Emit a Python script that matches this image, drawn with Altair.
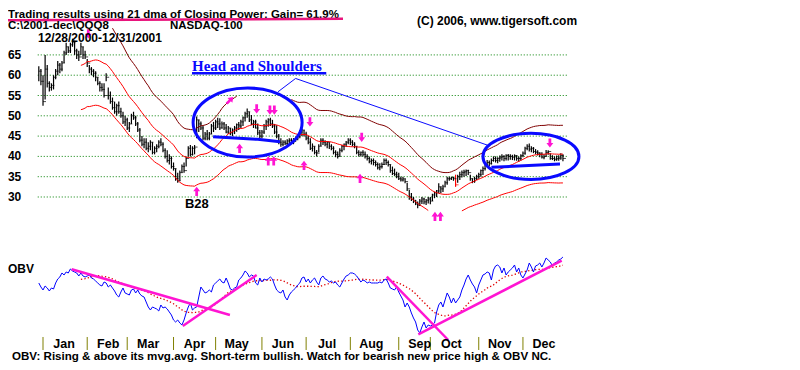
import altair as alt
import pandas as pd

# ---------------- data ----------------
# trading-day index 0 = 12/28/2000 ... 249 = 12/31/2001 ; QQQ (NASDAQ-100 tracking stock)
highs = [
    62.2, 61.5, 60.0, 65.0, 62.5, 58.5, 58.0, 60.0, 61.5, 63.5,
    63.0, 63.5, 66.0, 68.0, 67.0, 68.0, 69.0, 68.5, 66.5, 66.0,
    68.0, 67.0, 66.0, 64.0, 62.5, 62.0, 61.5, 61.0, 59.5, 58.5,
    58.0, 58.0, 60.5, 57.0, 56.0, 54.5, 53.5, 53.0, 53.5, 52.0,
    51.0, 50.0, 49.5, 48.5, 50.5, 51.0, 50.0, 48.5, 47.0, 45.0,
    44.5, 44.5, 43.5, 44.0, 43.5, 42.5, 43.0, 44.0, 44.5, 43.5,
    42.0, 41.5, 40.5, 40.0, 38.5, 37.0, 36.0, 36.5, 38.0, 38.5,
    40.0, 42.5, 42.8, 42.5, 42.8, 49.8, 49.0, 48.6, 47.5, 46.0,
    46.5, 46.0, 48.0, 48.5, 49.0, 49.5, 49.4, 48.6, 48.5, 48.0,
    47.5, 47.0, 46.9, 47.5, 48.1, 48.5, 49.0, 49.8, 51.0, 51.8,
    51.0, 50.2, 49.0, 49.0, 48.1, 46.5, 46.5, 48.0, 49.0, 49.4,
    49.5, 49.0, 48.0, 47.7, 45.5, 44.5, 44.0, 44.0, 44.2, 44.5,
    44.5, 44.5, 44.9, 45.5, 46.5, 46.9, 46.5, 46.1, 45.0, 44.5,
    43.2, 42.5, 41.6, 43.0, 44.5, 44.5, 44.0, 43.8, 43.5, 43.0,
    42.5, 41.5, 41.2, 42.0, 42.8, 43.2, 43.8, 44.5, 44.5, 44.0,
    43.5, 42.5, 41.5, 41.2, 41.5, 41.2, 40.5, 40.0, 39.5, 39.5,
    39.0, 38.5, 38.3, 38.5, 39.5, 39.5, 39.0, 38.0, 37.5, 37.0,
    36.2, 36.0, 35.0, 35.0, 34.5, 33.5, 31.7, 31.0, 30.0, 29.3,
    28.9, 29.5, 30.0, 29.8, 29.5, 30.0, 30.0, 30.8, 31.3, 31.7,
    33.4, 32.6, 33.0, 34.0, 35.0, 35.0, 35.0, 35.0, 35.5, 35.5,
    36.2, 36.5, 36.7, 36.8, 36.7, 35.5, 34.6, 35.0, 35.5, 36.0,
    36.8, 37.5, 38.5, 39.1, 39.0, 39.5, 40.0, 40.0, 39.8, 40.2,
    40.5, 40.3, 40.5, 40.6, 40.5, 40.4, 40.5, 40.3, 40.0, 40.5,
    41.2, 42.4, 43.0, 43.2, 42.5, 42.3, 41.8, 41.5, 41.0, 41.0,
    40.5, 41.6, 41.5, 40.8, 40.3, 40.0, 40.2, 40.3, 40.8, 40.5,
]
lows = [
    58.5, 57.5, 52.5, 54.0, 57.0, 56.0, 56.2, 56.5, 59.0, 60.0,
    60.5, 61.0, 63.0, 65.0, 65.5, 65.5, 67.0, 65.0, 64.0, 63.5,
    65.0, 64.0, 64.0, 62.0, 60.5, 60.0, 59.5, 58.5, 57.5, 56.0,
    56.0, 54.5, 58.5, 54.0, 53.0, 51.5, 50.5, 50.0, 50.5, 49.5,
    48.0, 47.5, 46.5, 46.0, 48.0, 49.0, 47.5, 46.0, 43.5, 42.5,
    42.0, 41.5, 41.0, 41.5, 40.5, 40.5, 41.0, 42.0, 42.5, 41.0,
    39.5, 38.5, 38.0, 37.0, 36.5, 34.0, 33.5, 34.0, 36.0, 36.0,
    37.5, 40.0, 40.0, 40.2, 40.5, 44.5, 46.0, 46.5, 44.0, 44.0,
    44.0, 44.0, 45.5, 46.0, 46.5, 47.0, 46.5, 46.9, 46.5, 45.7,
    45.5, 45.3, 45.0, 45.5, 46.1, 46.5, 47.0, 47.5, 48.6, 49.5,
    48.5, 47.7, 47.0, 46.9, 45.3, 44.5, 44.5, 45.5, 46.5, 47.3,
    47.5, 47.0, 45.5, 44.5, 43.0, 42.4, 42.5, 42.8, 42.8, 43.0,
    43.2, 43.0, 43.6, 44.0, 44.5, 45.0, 44.9, 44.0, 43.0, 41.6,
    41.2, 40.5, 40.0, 41.0, 42.5, 42.8, 42.5, 42.0, 41.8, 41.5,
    40.5, 39.8, 39.5, 40.0, 41.0, 41.5, 42.3, 43.0, 42.8, 42.5,
    42.0, 40.5, 40.0, 40.0, 40.0, 39.5, 39.0, 38.3, 38.0, 37.8,
    37.5, 36.8, 36.6, 37.0, 37.9, 37.9, 37.5, 36.0, 35.4, 35.2,
    34.6, 34.2, 33.8, 33.8, 33.4, 31.5, 29.3, 29.0, 28.5, 28.0,
    27.2, 27.8, 28.3, 28.2, 28.0, 28.4, 28.2, 29.0, 29.7, 30.0,
    30.9, 31.0, 31.2, 32.5, 33.0, 34.0, 34.2, 34.0, 32.5, 33.5,
    34.2, 34.8, 35.0, 35.2, 35.4, 34.0, 33.4, 33.5, 34.2, 34.5,
    35.0, 35.4, 36.5, 37.9, 37.6, 38.0, 38.7, 38.5, 38.3, 38.7,
    39.0, 38.8, 39.0, 39.0, 39.2, 39.1, 39.0, 38.9, 38.7, 39.0,
    39.8, 40.4, 41.5, 41.2, 41.0, 40.8, 40.5, 40.2, 39.8, 39.5,
    39.3, 40.0, 40.4, 39.2, 39.1, 38.8, 38.9, 38.9, 39.2, 38.8,
]
closes = [
    61.0, 58.5, 53.5, 61.5, 58.0, 57.0, 57.5, 59.5, 61.0, 62.5,
    61.5, 63.0, 65.5, 67.0, 66.0, 67.5, 68.0, 66.0, 65.0, 64.5,
    67.0, 65.0, 64.5, 63.0, 61.5, 61.0, 60.5, 59.5, 58.0, 57.0,
    56.5, 55.0, 59.5, 55.0, 53.5, 52.0, 51.0, 52.5, 51.0, 50.0,
    48.5, 49.0, 47.0, 48.0, 50.0, 49.5, 48.0, 46.5, 44.0, 43.0,
    43.5, 42.0, 42.5, 43.5, 41.0, 42.0, 42.5, 43.5, 43.0, 41.5,
    40.0, 39.0, 39.5, 37.5, 37.0, 34.5, 34.0, 36.0, 37.5, 36.5,
    39.5, 42.0, 40.5, 42.0, 42.3, 49.0, 48.0, 47.0, 44.5, 45.5,
    44.5, 45.5, 47.5, 47.0, 48.5, 48.0, 47.0, 48.0, 47.0, 46.0,
    47.0, 45.8, 46.5, 47.0, 47.8, 47.5, 48.5, 49.5, 50.5, 51.0,
    49.0, 48.0, 48.5, 47.0, 45.8, 45.0, 46.0, 47.5, 48.5, 49.0,
    48.0, 47.5, 46.0, 45.0, 43.5, 43.0, 43.5, 43.2, 43.8, 44.0,
    43.5, 44.2, 44.5, 45.0, 46.0, 46.5, 45.5, 44.5, 43.5, 42.0,
    42.5, 41.0, 40.8, 42.5, 44.0, 43.5, 43.0, 43.5, 42.5, 42.0,
    41.0, 40.5, 40.0, 41.5, 42.5, 43.0, 43.5, 44.0, 43.5, 43.0,
    42.5, 41.0, 40.5, 41.0, 40.5, 40.0, 39.5, 38.8, 39.0, 38.5,
    38.0, 37.2, 37.5, 38.0, 39.0, 38.5, 38.0, 36.5, 35.8, 35.5,
    35.0, 34.5, 34.2, 34.5, 33.8, 32.0, 30.0, 29.5, 29.0, 28.3,
    28.0, 29.0, 29.5, 28.8, 29.2, 29.5, 29.0, 30.5, 31.0, 31.5,
    32.5, 32.0, 32.5, 33.5, 34.5, 34.5, 34.8, 34.5, 33.0, 35.0,
    35.5, 36.0, 36.2, 36.5, 36.0, 34.5, 33.8, 34.5, 35.0, 35.5,
    36.5, 37.0, 38.0, 38.5, 38.2, 39.0, 39.5, 39.0, 39.5, 39.8,
    40.0, 39.5, 40.2, 40.0, 40.0, 39.8, 40.2, 39.5, 39.5, 40.2,
    40.8, 42.0, 42.5, 41.8, 42.0, 41.2, 41.0, 40.8, 40.5, 39.8,
    40.0, 41.0, 41.2, 39.5, 39.5, 39.2, 39.5, 39.6, 40.2, 39.5,
]
# On-Balance-Volume, relative units
obv_values = [
    57, 53, 50, 54, 52, 49, 52, 51, 57, 61,
    63, 67, 65, 68, 67, 71, 69, 68, 67, 64,
    67, 64, 63, 64, 65, 62, 61, 59, 57, 55,
    54, 58, 57, 53, 55, 52, 49, 45, 43, 48,
    52, 47, 46, 45, 50, 51, 47, 50, 46, 44,
    43, 38, 33, 30, 33, 32, 31, 29, 35, 32,
    33, 31, 28, 25, 20, 18, 20, 17, 15, 20,
    27, 33, 37, 30, 32, 33, 43, 53, 50, 47,
    48, 50, 48, 55, 57, 59, 61, 58, 57, 62,
    57, 51, 50, 52, 53, 60, 62, 65, 69, 67,
    63, 65, 64, 57, 55, 62, 58, 61, 60, 61,
    63, 61, 55, 50, 48, 47, 50, 43, 40, 45,
    48, 50, 52, 55, 57, 62, 63, 58, 61, 57,
    60, 62, 58, 55, 62, 64, 61, 60, 58, 59,
    57, 58, 55, 53, 57, 61, 64, 65, 67, 67,
    66, 64, 61, 58, 60, 59, 57, 58, 57, 57,
    57, 57, 58, 57, 60, 61, 57, 52, 51, 50,
    53, 48, 44, 40, 33, 37, 33, 27, 22, 18,
    10, 7, 13, 18, 12, 15, 14, 15, 17, 28,
    35, 38, 33, 40, 47, 43, 37, 42, 37, 40,
    43, 50, 55, 61, 65, 60, 56, 53, 47, 55,
    60, 65, 66, 68, 67, 60, 70, 74, 75, 73,
    67, 72, 65, 68, 70, 72, 75, 68, 72, 65,
    62, 66, 70, 77, 73, 68, 74, 75, 77, 73,
    77, 82, 80, 78, 74, 77, 78, 80, 81, 83,
]
red_bar_days = [198]

month_names = ["Jan", "Feb", "Mar", "Apr", "May", "Jun", "Jul", "Aug", "Sep", "Oct", "Nov", "Dec"]
month_start_days = [2, 23, 42, 64, 84, 106, 127, 148, 171, 186, 209, 230]
price_ticks = [30, 35, 40, 45, 50, 55, 60, 65]

ma_window = 21          # 21 dma
band_pct = 0.175        # band width around the 21 dma
upper_band_gap = [95, 119]   # stretch where the upper band is not drawn

# signal arrows (day, price)
down_arrow_days = [23.5, 103.5, 109.8, 111.9, 128.8, 153.4, 242.8]
down_arrow_prices = [70.2, 51.7, 51.4, 51.4, 48.5, 44.7, 43.3]
up_arrow_days = [75.0, 95.4, 109.0, 111.6, 126.0, 152.6, 188.2, 190.8]
up_arrow_prices = [31.4, 42.0, 38.9, 38.9, 37.8, 34.6, 25.2, 25.2]
diag_arrow_days = [90.8]
diag_arrow_prices = [53.8]

# hand-drawn annotations (day, price)
ellipse_days = [99.2, 233.8]
ellipse_prices = [48.35, 40.0]
neck1_days = [82.8, 104.0, 114.6]
neck1_prices = [44.85, 44.2, 43.6]
neck2_days = [215.0, 247.6]
neck2_prices = [37.3, 38.1]
pointer_days = [113.6, 122.0, 213.0]
pointer_prices = [55.9, 59.2, 42.8]
# OBV trend lines (day, obv)
obv_trend_seg = [0, 0, 1, 1, 2, 2, 3, 3]
obv_trend_days = [15.6, 90.8, 68.4, 103.5, 165.3, 194.5, 180.3, 248.4]
obv_trend_vals = [70.7, 25.0, 14.0, 65.0, 63.3, 0.0, 5.7, 79.3]

title_text = "Trading results using  21 dma of Closing Power: Gain= 61.9%"
path_text = "C:\\2001-dec\\QQQ8"
index_text = "NASDAQ-100"
range_text = "12/28/2000-12/31/2001"
copyright_text = "(C) 2006, www.tigersoft.com"
hs_text = "Head and Shoulders"
b_text = "B28"
obv_text = "OBV"
footer_text = "OBV: Rising & above its mvg.avg. Short-term bullish. Watch for bearish new price high & OBV NC."

# ---------------- chart ----------------
FONT = "Liberation Sans"
MAGENTA = "#ff14d2"
BLUE = "#0a0aff"
PMIN, PMAX = 26.5, 72
PLOT_W, PLOT_H = 529.4, 329

n = len(closes)
df = pd.DataFrame({"d": list(range(n)), "high": highs, "low": lows,
                   "close": closes, "obv": obv_values})
df["col"] = ["#ff0000" if d in red_bar_days else "#000000" for d in df["d"]]

x_scale = alt.Scale(domain=[-0.5, 251], nice=False, zero=False)
py = alt.Scale(domain=[PMIN, PMAX], range=[203.2, 18.5], nice=False, zero=False)
oy = alt.Scale(domain=[0, 100], range=[332, 232], nice=False, zero=False)
xe = alt.X("d:Q", scale=x_scale, axis=None)


def yp(field):
    return alt.Y(field, scale=py, axis=None)


def yo(field):
    return alt.Y(field, scale=oy, axis=None)


# price grid + labels
tick_df = pd.DataFrame({"p": price_ticks})
grid = alt.Chart(tick_df).mark_rule(color="#008000", strokeDash=[1, 2], strokeWidth=1).encode(
    y=yp("p:Q"), x=alt.value(0), x2=alt.value(PLOT_W))
ylabels = alt.Chart(tick_df).mark_text(
    align="right", baseline="middle", font=FONT, fontSize=12, fontWeight="bold", color="black"
).encode(y=yp("p:Q"), x=alt.value(-16.5), text="p:Q")

base = alt.Chart(df)
bars = base.mark_rule(strokeWidth=1.2).encode(
    x=xe, y=yp("low:Q"), y2="high:Q", color=alt.Color("col:N", scale=None))
close_ticks = base.mark_tick(orient="horizontal", size=3, thickness=1, xOffset=1.5).encode(
    x=xe, y=yp("close:Q"), color=alt.Color("col:N", scale=None))

W = ma_window
ma = base.transform_window(
    ma="mean(close)", cnt="count()", frame=[-(W - 1), 0], sort=[alt.SortField("d")]
).transform_calculate(
    mid=f"datum.cnt >= {W} ? datum.ma : null",
    upper=(f"datum.cnt >= {W} && datum.ma*{1 + band_pct} <= {PMAX} && "
           f"(datum.d < {upper_band_gap[0]} || datum.d > {upper_band_gap[1]}) ? datum.ma*{1 + band_pct} : null"),
    lower=f"datum.cnt >= {W} && datum.ma*{1 - band_pct} >= {PMIN} ? datum.ma*{1 - band_pct} : null",
)
inv = "break-paths-filter-domains"
mid_line = ma.mark_line(color="#ff0000", strokeWidth=1, invalid=inv).encode(x=xe, y=yp("mid:Q"))
up_line = ma.mark_line(color="#800000", strokeWidth=1, invalid=inv).encode(x=xe, y=yp("upper:Q"))
lo_line = ma.mark_line(color="#ff0000", strokeWidth=1, invalid=inv).encode(x=xe, y=yp("lower:Q"))

ARROW = "M-0.3,1 L0.3,1 L0.3,0 L0.75,0 L0,-1 L-0.75,0 L-0.3,0 Z"
up_df = pd.DataFrame({"d": up_arrow_days, "p": up_arrow_prices})
dn_df = pd.DataFrame({"d": down_arrow_days, "p": down_arrow_prices})
dg_df = pd.DataFrame({"d": diag_arrow_days, "p": diag_arrow_prices})
arrow_kw = dict(shape=ARROW, size=85, filled=True, color=MAGENTA, opacity=1, strokeWidth=0)
up_arrows = alt.Chart(up_df).mark_point(**arrow_kw).encode(x=xe, y=yp("p:Q"))
dn_arrows = alt.Chart(dn_df).mark_point(angle=180, **arrow_kw).encode(x=xe, y=yp("p:Q"))
dg_arrows = alt.Chart(dg_df).mark_point(angle=45, **arrow_kw).encode(x=xe, y=yp("p:Q"))

el1 = alt.Chart(pd.DataFrame({"d": ellipse_days[:1], "p": ellipse_prices[:1]})).mark_point(
    shape="M-1,0 A1,0.633 0 1,1 1,0 A1,0.633 0 1,1 -1,0 Z", size=109 ** 2, filled=False,
    stroke=BLUE, strokeWidth=3, opacity=1).encode(x=xe, y=yp("p:Q"))
el2 = alt.Chart(pd.DataFrame({"d": ellipse_days[1:], "p": ellipse_prices[1:]})).mark_point(
    shape="M-1,0 A1,0.48 0 1,1 1,0 A1,0.48 0 1,1 -1,0 Z", size=96 ** 2, filled=False,
    stroke=BLUE, strokeWidth=3, opacity=1).encode(x=xe, y=yp("p:Q"))

neck_df = pd.DataFrame({"seg": [0] * len(neck1_days) + [1] * len(neck2_days),
                        "d": neck1_days + neck2_days, "p": neck1_prices + neck2_prices})
necks = alt.Chart(neck_df).mark_line(color=BLUE, strokeWidth=3).encode(
    x=xe, y=yp("p:Q"), detail="seg:N")
pointer = alt.Chart(pd.DataFrame({"d": pointer_days, "p": pointer_prices})).mark_line(
    color=BLUE, strokeWidth=1).encode(x=xe, y=yp("p:Q"))

price_group = alt.layer(grid, ylabels, bars, close_ticks, mid_line, up_line, lo_line, necks,
                        pointer, el1, el2, up_arrows, dn_arrows, dg_arrows)

# OBV panel
obv_line = base.mark_line(color="#0000ff", strokeWidth=1).encode(x=xe, y=yo("obv:Q"))
obv_ma = base.transform_window(
    oma="mean(obv)", cnt="count()", frame=[-(W - 1), 0], sort=[alt.SortField("d")]
).transform_filter(f"datum.cnt >= {W}").mark_line(
    color="#e00000", strokeWidth=1.3, strokeDash=[1.3, 2.2]).encode(x=xe, y=yo("oma:Q"))
trend_df = pd.DataFrame({"seg": obv_trend_seg, "d": obv_trend_days, "v": obv_trend_vals})
obv_trends = alt.Chart(trend_df).mark_line(color=MAGENTA, strokeWidth=2.5).encode(
    x=xe, y=yo("v:Q"), detail="seg:N")
obv_group = alt.layer(obv_ma, obv_line, obv_trends)

# month ticks and labels
month_df = pd.DataFrame({"d": month_start_days, "m": month_names})
mticks = alt.Chart(month_df).mark_rule(color="#808000", strokeWidth=1).encode(
    x=xe, y=alt.value(PLOT_H), y2=alt.value(PLOT_H + 13))
mlabels = alt.Chart(month_df).mark_text(
    align="center", baseline="alphabetic", dx=21, font=FONT, fontSize=12.5, fontWeight="bold",
    color="black").encode(x=xe, y=alt.value(PLOT_H + 11.5), text="m:N")


def label(txt, x, y, size=12, color="black", font=FONT, weight="bold"):
    return alt.Chart(pd.DataFrame({"t": [txt]})).mark_text(
        align="left", baseline="alphabetic", font=font, fontSize=size, fontWeight=weight,
        color=color).encode(x=alt.value(x), y=alt.value(y), text="t:N")


def stroke(x1, y1, x2, y2, color, width):
    return alt.Chart(pd.DataFrame({"k": [0]})).mark_rule(color=color, strokeWidth=width).encode(
        x=alt.value(x1), y=alt.value(y1), x2=alt.value(x2), y2=alt.value(y2))


texts = [
    label(title_text, -29.75, 9.5, size=11.5),
    stroke(-31.75, 12.2, 305.25, 10.8, "#e8147c", 2.5),
    label(path_text, -29.75, 20.5, size=11.5),
    label(index_text, 132.25, 20.5, size=11.5),
    label(copyright_text, 379.25, 17),
    label(range_text, 0.25, 34, size=12),
    label(hs_text, 154.25, 63, size=15, color=BLUE, font="Liberation Serif"),
    stroke(154.25, 65.2, 288.5, 65.2, BLUE, 2.5),
    label(b_text, 147.25, 200.5, size=13),
    label(obv_text, -29.75, 265),
    label(footer_text, -25.75, 352.3, size=11.6),
]

chart = alt.layer(price_group, obv_group, mticks, mlabels, *texts).resolve_scale(
    y="independent").properties(
    width=PLOT_W, height=PLOT_H,
    autosize=alt.AutoSizeParams(type="none"),
    padding={"left": 29.75, "top": 0, "right": 224, "bottom": 25},
    background="white",
).configure_view(stroke=None)

chart.save("out.html", embed_options={"renderer": "svg", "actions": False})
